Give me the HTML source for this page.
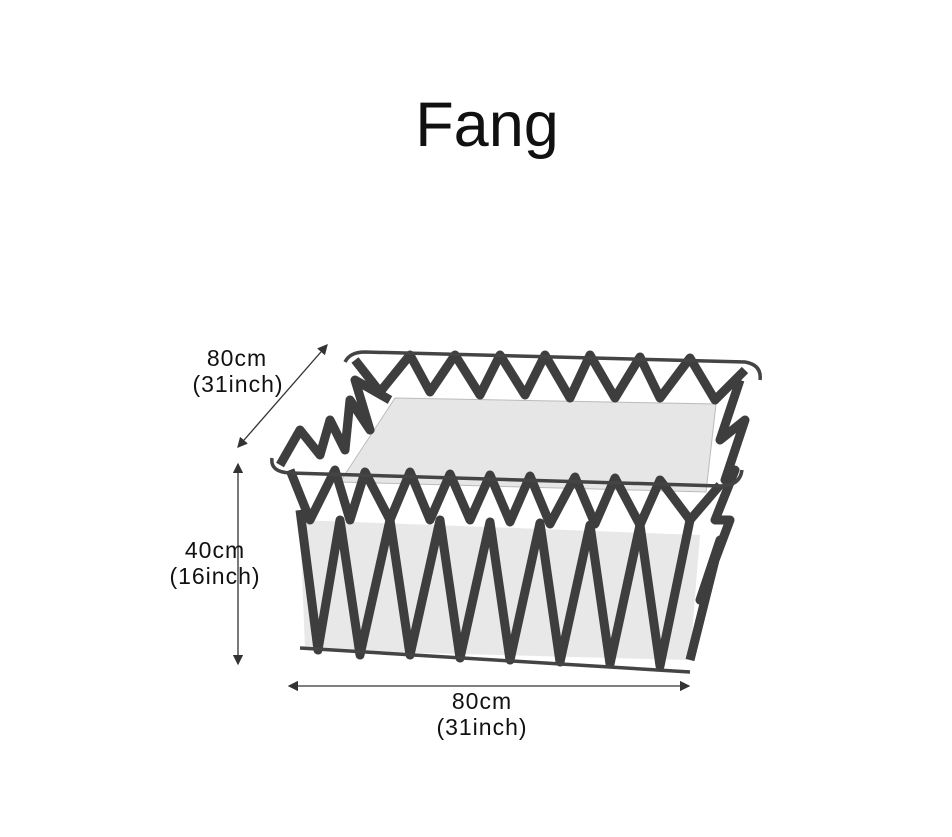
<!DOCTYPE html>
<html><head><style>
body{margin:0;background:#fff;}
.t{font-family:"Liberation Sans",sans-serif;}
</style></head><body>
<svg width="952" height="832" xmlns="http://www.w3.org/2000/svg">
<rect width="952" height="832" fill="#fff"/>
<text x="487" y="146" text-anchor="middle" class="t" font-size="63" fill="#111">Fang</text>
<defs>
<marker id="a" markerWidth="8" markerHeight="8" refX="7" refY="4" orient="auto-start-reverse"><path d="M0,0 L8,4 L0,8 z" fill="#333"/></marker>
</defs>
<line x1="238" y1="447" x2="327" y2="345" stroke="#333" stroke-width="1.3" marker-start="url(#a)" marker-end="url(#a)"/>
<line x1="238" y1="464" x2="238" y2="664" stroke="#333" stroke-width="1.3" marker-start="url(#a)" marker-end="url(#a)"/>
<line x1="289" y1="686" x2="689" y2="686" stroke="#333" stroke-width="1.3" marker-start="url(#a)" marker-end="url(#a)"/>
<polygon points="300,520 700,535 690,660 305,650" fill="#e8e8e8"/>
<polygon points="395,398 716,404 706,492 340,482" fill="#e6e6e6" stroke="#bbb"/>
<g fill="none" stroke="#3e3e3e" stroke-width="9" stroke-linejoin="round">
<polyline points="355,360 380,392 410,355 430,392 455,355 480,395 500,355 525,395 545,355 570,398 590,355 615,398 640,357 660,398 690,358 715,400 745,370"/>
<polyline points="290,470 310,520 335,470 350,520 365,472 390,520 410,472 430,520 450,474 470,520 490,475 510,522 530,476 550,524 575,477 595,524 615,478 640,525 660,480 690,520 720,485"/>
<polyline points="300,510 318,650 340,520 360,655 390,520 410,655 440,520 460,658 490,522 510,660 540,523 560,662 590,525 610,664 640,525 660,666 690,520"/>
<polyline points="280,465 300,430 320,455 330,420 345,450 350,400 370,430 355,380 390,400"/>
<polyline points="740,380 720,440 745,420 725,480 735,470 715,520 730,520 700,600 720,540 690,660"/>
</g>
<g fill="none" stroke="#444" stroke-width="3.5">
<path d="M345,362 Q350,352 365,352 L745,362 Q762,365 760,380"/>
<path d="M272,458 Q270,472 290,473 L720,486 Q740,486 742,470"/>
<path d="M300,648 L690,672"/>
</g>
<g class="t" font-size="23" fill="#111" text-anchor="middle" letter-spacing="1">
<text x="237" y="366">80cm</text>
<text x="238" y="392">(31inch)</text>
<text x="215" y="558">40cm</text>
<text x="215" y="584">(16inch)</text>
<text x="482" y="709">80cm</text>
<text x="482" y="735">(31inch)</text>
</g>
</svg>
</body></html>
